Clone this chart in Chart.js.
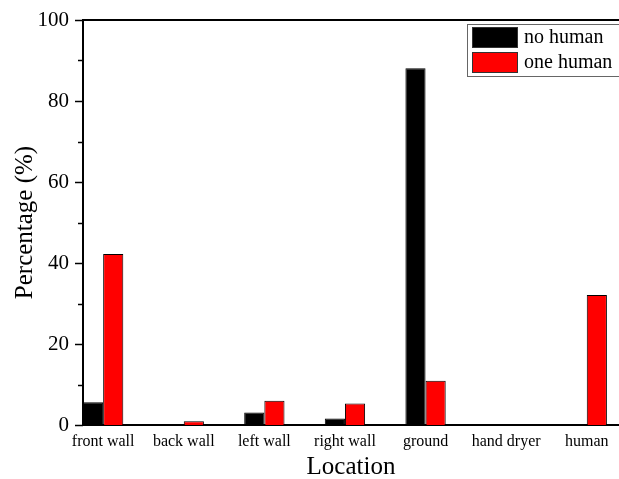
<!DOCTYPE html>
<html>
<head>
<meta charset="utf-8">
<script src="https://cdn.jsdelivr.net/npm/chart.js@4/dist/chart.umd.min.js"></script>
<style>
  html, body { margin: 0; padding: 0; background: #fff; }
  #wrap { width: 619px; height: 479px; }
</style>
</head>
<body>
<div id="wrap"><canvas id="chart"></canvas></div>
<script>
// values
const categories = ['front wall', 'back wall', 'left wall', 'right wall', 'ground', 'hand dryer', 'human'];
const noHuman = [5.6, 0.2, 3.1, 1.6, 88.1, 0, 0];
const oneHuman = [42.2, 0.9, 6.0, 5.3, 10.9, 0, 32.1];
const seriesNames = ['no human', 'one human'];
const seriesColors = ['#000000', '#ff0000'];

const serif = "'Liberation Serif', 'Times New Roman', serif";

// outward major/minor ticks on the y axis + top frame line + legend
const frameAndTicks = {
  id: 'frameAndTicks',
  afterDraw(chart) {
    const { ctx, chartArea } = chart;
    const y = chart.scales.y;
    ctx.save();
    ctx.strokeStyle = '#000';
    ctx.lineWidth = 2;
    ctx.beginPath();
    ctx.moveTo(chartArea.left - 1, chartArea.top);
    ctx.lineTo(chartArea.right, chartArea.top);
    ctx.stroke();
    ctx.lineWidth = 1.5;
    for (let v = y.min; v <= y.max; v += 10) {
      const py = Math.round(y.getPixelForValue(v)) + 0.5;
      const len = v % 20 === 0 ? 8 : 5;
      ctx.beginPath();
      ctx.moveTo(chartArea.left, py);
      ctx.lineTo(chartArea.left - len, py);
      ctx.stroke();
    }
    // legend box inside the plot, top right
    const bx = 467, by = 24, bw = 152, bh = 52;
    ctx.lineWidth = 1;
    ctx.strokeStyle = '#666';
    ctx.strokeRect(bx + 0.5, by + 0.5, bw, bh);
    ctx.font = '20px ' + serif;
    ctx.textBaseline = 'middle';
    chart.data.datasets.forEach((ds, i) => {
      const sy = by + 3 + i * 25;
      ctx.fillStyle = ds.backgroundColor;
      ctx.fillRect(bx + 5, sy, 46, 21);
      ctx.strokeStyle = '#333';
      ctx.strokeRect(bx + 5.5, sy + 0.5, 45, 20);
      ctx.fillStyle = '#000';
      ctx.fillText(ds.label, bx + 57, sy + 11);
    });
    ctx.restore();
  }
};

new Chart(document.getElementById('chart'), {
  type: 'bar',
  data: {
    datasets: [
      {
        label: seriesNames[0],
        data: noHuman.map((v, i) => ({ x: i + 1, y: v })),
        backgroundColor: seriesColors[0],
        borderColor: '#000',
        borderWidth: 1,
      },
      {
        label: seriesNames[1],
        data: oneHuman.map((v, i) => ({ x: i + 1, y: v })),
        backgroundColor: seriesColors[1],
        borderColor: '#000',
        borderWidth: 1,
      },
    ],
  },
  options: {
    responsive: true,
    maintainAspectRatio: false,
    animation: false,
    categoryPercentage: 0.5,
    barPercentage: 1.0,
    layout: { padding: { top: 20, right: 0, left: 0, bottom: 0 } },
    plugins: {
      legend: { display: false },
      tooltip: { enabled: false },
    },
    scales: {
      x: {
        type: 'linear',
        offset: false,
        bounds: 'data',
        min: 0.75,
        max: 7.4,
        afterBuildTicks: (scale) => {
          scale.ticks = categories.map((c, i) => ({ value: i + 1 }));
        },
        afterFit: (scale) => {
          scale.height = 54;
          scale.paddingLeft = 0;
          scale.paddingRight = 0;
        },
        grid: { display: false, drawTicks: false },
        border: { color: '#000', width: 2 },
        ticks: {
          autoSkip: false,
          maxRotation: 0,
          padding: 7,
          color: '#000',
          font: { family: serif, size: 16 },
          callback: (v) => categories[v - 1] || '',
        },
        title: {
          display: true,
          text: 'Location',
          color: '#000',
          font: { family: serif, size: 25, lineHeight: 0.9 },
          padding: { top: 0, bottom: 0 },
        },
      },
      y: {
        min: 0,
        max: 100,
        afterFit: (scale) => {
          scale.width = 83;
          scale.paddingTop = 0;
          scale.paddingBottom = 0;
        },
        grid: { display: false, drawTicks: false },
        border: { color: '#000', width: 2 },
        ticks: {
          stepSize: 20,
          padding: 14,
          color: '#000',
          font: { family: serif, size: 21 },
        },
        title: {
          display: true,
          text: 'Percentage (%)',
          color: '#000',
          font: { family: serif, size: 25 },
          padding: { top: 10, bottom: 0 },
        },
      },
    },
  },
  plugins: [frameAndTicks],
});
</script>
</body>
</html>
